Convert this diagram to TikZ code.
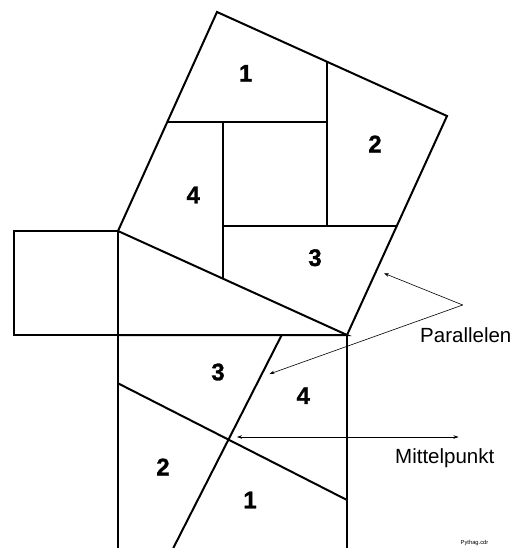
\documentclass[tikz,border=0pt]{standalone}
\usepackage{fontspec}
\setmainfont{Liberation Sans}
\newfontfamily\digitfont[FakeBold=1.2]{Liberation Sans Bold}
\usetikzlibrary{arrows.meta}
\begin{document}
\begin{tikzpicture}[x=1pt,y=-1pt,
  edge/.style={line width=2pt, line join=miter},
  fine/.style={line width=0.6pt},
  pointer/.style={fine, -{Stealth[length=5pt,width=3.5pt]}},
  num/.style={font=\digitfont\fontsize{24}{24}\selectfont, inner sep=0pt},
  lab/.style={font=\fontsize{20.5}{20.5}\selectfont, inner sep=0pt, anchor=base west}]
\useasboundingbox (0,0) rectangle (518,548);
% main vertices
\coordinate (A) at (118,231);
\coordinate (C) at (347,335);
\coordinate (R) at (118,335);
\coordinate (T) at (217,12);
\coordinate (Q) at (447,116);
% small square
\coordinate (S1) at (14,231);
\coordinate (S2) at (14,335);
\draw[edge] (S1) -- (A) -- (R) -- (S2) -- cycle;
% triangle and hypotenuse square
\draw[edge] (A) -- (C) -- (R);
\draw[edge] (A) -- (T) -- (Q) -- (C);
% big square (clipped at bottom)
\coordinate (B1) at (118,549);
\coordinate (B2) at (347,549);
\draw[edge] (R) -- (B1);
\draw[edge] (C) -- (B2);
% pieces in the hypotenuse square
\coordinate (P1) at (167.1,122.3);
\coordinate (P2) at (327,122.3);
\coordinate (P3) at (327,61.7);
\coordinate (V1) at (223,122.3);
\coordinate (V2) at (223,278.7);
\coordinate (H1) at (223,226);
\coordinate (H2) at (327,226);
\coordinate (H3) at (396.2,226);
\draw[edge] (P1) -- (P2);
\draw[edge] (P3) -- (H2);
\draw[edge] (V1) -- (V2);
\draw[edge] (H1) -- (H3);
% pieces in the big square
\coordinate (a1) at (118,383.3);
\coordinate (a2) at (347,500);
\coordinate (b1) at (281.7,335);
\coordinate (b2) at (173.3,548);
\draw[edge] (a1) -- (a2);
\draw[edge] (b1) -- (b2);
% numbers
\node[num] (n1t) at (245.7,73.3) {1};
\node[num] (n2t) at (375,144) {2};
\node[num] (n4t) at (193.3,195) {4};
\node[num] (n3t) at (315,257.7) {3};
\node[num] (n3b) at (218,372) {3};
\node[num] (n4b) at (303.3,395.7) {4};
\node[num] (n2b) at (163,467) {2};
\node[num] (n1b) at (250,500) {1};
% labels and pointers
\node[lab] (par) at (420,342.7) {Parallelen};
\node[lab] (mit) at (395,463.3) {Mittelpunkt};
\coordinate (apex) at (462.7,305);
\coordinate (tipU) at (384,273.3);
\coordinate (tipL) at (269.5,374);
\draw[pointer] (apex) -- (tipU);
\draw[pointer] (apex) -- (tipL);
\coordinate (mtip) at (237,437);
\coordinate (mend) at (458.5,437);
\draw[fine, {Stealth[length=5pt,width=3.5pt]}-{Stealth[length=5pt,width=3.5pt]}] (mtip) -- (mend);
\node[font=\fontsize{5.8}{6}\selectfont, inner sep=0pt] (file) at (474.5,543) {Pythag.cdr};
\end{tikzpicture}
\end{document}
